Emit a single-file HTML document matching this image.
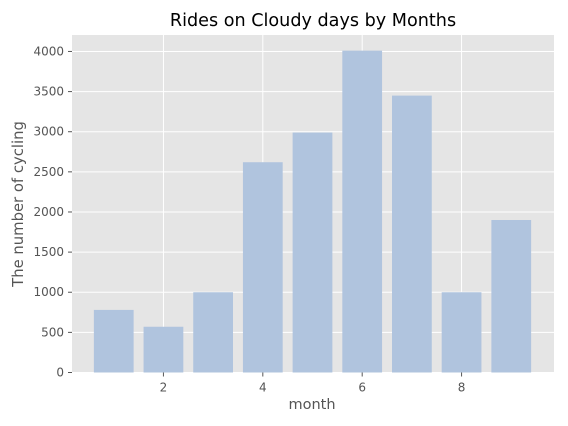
<!DOCTYPE html>
<html><head><meta charset="utf-8"><style>
body{margin:0;background:#fff;}
svg{display:block;font-family:"DejaVu Sans","Liberation Sans",sans-serif;}
</style></head><body>
<svg id="chart" width="568" height="426">
<rect x="0" y="0" width="568" height="426" fill="#fff"/>
<rect x="72" y="35" width="482" height="337.5" fill="#e5e5e5"/>
<g id="grid"></g><g id="bars"></g><g id="axes"></g>
<text x="313" y="26" text-anchor="middle" font-size="17.6" fill="#000">Rides on Cloudy days by Months</text>
<text x="312" y="409" text-anchor="middle" font-size="14.5" fill="#555">month</text>
<text transform="translate(23,204) rotate(-90)" text-anchor="middle" font-size="14.8" fill="#555">The number of cycling</text>
</svg>
<script>
const months=[1,2,3,4,5,6,7,8,9];
const rides=[780,570,1000,2620,2990,4010,3450,1000,1900];
const xTicks=[2,4,6,8];
const yTicks=[0,500,1000,1500,2000,2500,3000,3500,4000];
const NS="http://www.w3.org/2000/svg";
const X0=72,X1=553,Y0=372.5,Y1=35,xmin=0.16,xmax=9.84,ymax=4205;
const sx=v=>X0+(v-xmin)/(xmax-xmin)*(X1-X0);
const sy=v=>Y0-v/ymax*(Y0-Y1);
function mk(t,a,p){const e=document.createElementNS(NS,t);for(const k in a)e.setAttribute(k,a[k]);p.appendChild(e);return e;}
const grid=document.getElementById('grid'),bars=document.getElementById('bars'),axes=document.getElementById('axes');
yTicks.forEach(v=>{const y=sy(v);
const g=mk('line',{x1:X0,x2:554,y1:y,y2:y,stroke:'#fff','stroke-width':1},grid);


const tk=mk('line',{x1:X0-4,x2:X0,y1:y,y2:y,stroke:'#555'},axes);


const t=mk('text',{x:X0-8,y:y+4,'text-anchor':'end','font-size':12,fill:'#555'},axes);t.textContent=v;

});
xTicks.forEach(v=>{const x=sx(v);
const g=mk('line',{x1:x,x2:x,y1:Y1,y2:Y0,stroke:'#fff','stroke-width':1},grid);


const tk=mk('line',{x1:x,x2:x,y1:Y0,y2:Y0+4,stroke:'#555'},axes);


const t=mk('text',{x:x,y:Y0+19,'text-anchor':'middle','font-size':12,fill:'#555'},axes);t.textContent=v;

});
months.forEach((m,i)=>{const xa=sx(m-0.4),xb=sx(m+0.4),y=sy(rides[i]);
const r=mk('rect',{x:xa,y:y,width:xb-xa,height:Y0-y,fill:'#b0c4de'},bars);

});
</script>
</body></html>
